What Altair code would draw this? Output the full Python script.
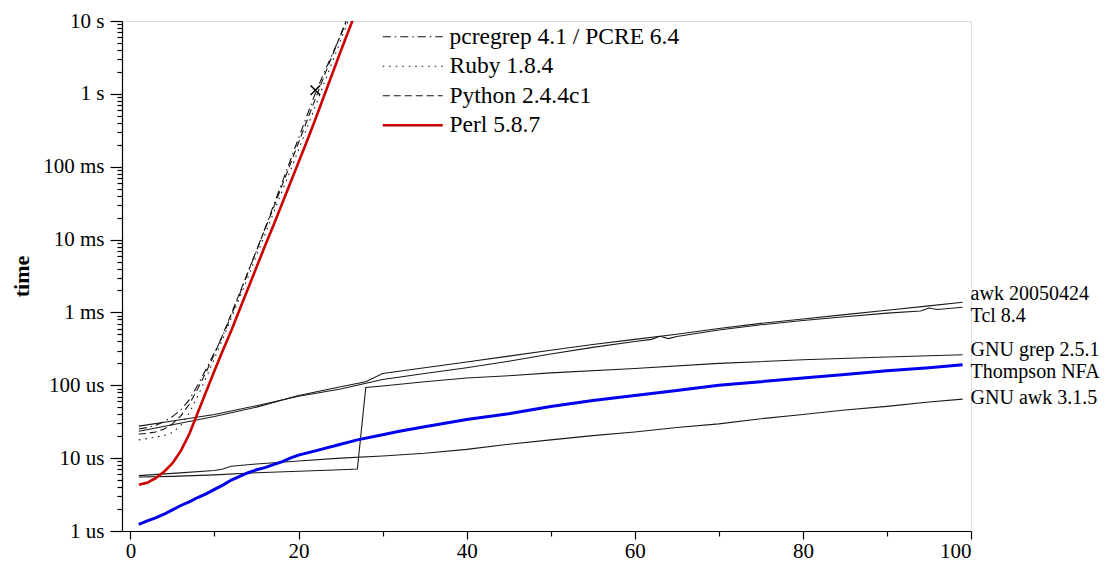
import altair as alt
import pandas as pd

SERIF = "Liberation Serif"

# ---------------- data (times, in microseconds) ----------------
PCRE = "pcregrep 4.1 / PCRE 6.4"
RUBY = "Ruby 1.8.4"
PY = "Python 2.4.4c1"
PERL = "Perl 5.8.7"
AWK = "awk 20050424"
TCL = "Tcl 8.4"
GREP = "GNU grep 2.5.1"
NFA = "Thompson NFA"
GAWK = "GNU awk 3.1.5"

perl_n = list(range(1, 28))
perl_us = [4.3, 4.6, 5.3, 6.5, 8.5, 12.6, 21.4, 41.7, 81.3, 158, 302, 562, 1100, 2140,
           4170, 8130, 15500, 30200, 58900, 115000, 224000, 447000, 912000, 1860000,
           3800000, 7590000, 15100000]

pcre_n = list(range(1, 27))
pcre_us = [25.1, 26.3, 28.2, 31.6, 37.2, 45.7, 63.1, 100, 166, 282, 479, 912, 1780, 3550,
           7080, 14100, 28800, 58900, 120000, 245000, 501000, 1020000, 1910000, 3470000,
           6310000, 12000000]

python_n = list(range(1, 27))
python_us = [21.4, 21.9, 22.9, 25.1, 29.5, 38.0, 55.0, 89.1, 151, 269, 501, 955, 1860, 3630,
             7080, 13800, 26900, 53700, 107000, 214000, 427000, 851000, 1700000, 3310000,
             6460000, 12600000]

ruby_n = list(range(1, 27))
ruby_us = [17.8, 18.6, 19.5, 20.4, 22.4, 28.2, 41.7, 70.8, 126, 234, 437, 832, 1590, 3090,
           6030, 11700, 22900, 44700, 87100, 170000, 339000, 676000, 1350000, 2690000,
           5370000, 10700000]

awk_n = [1, 5, 10, 15, 20, 25, 28, 30, 35, 40, 45, 50, 55, 60, 65, 70, 75, 80, 85, 90, 95, 99]
awk_us = [23.4, 28.8, 37.2, 50.1, 72.4, 95.5, 112, 145, 174, 209, 251, 302, 363, 427, 501,
          603, 708, 813, 933, 1070, 1230, 1380]

tcl_n = [1, 5, 10, 15, 20, 25, 30, 35, 40, 45, 50, 55, 60, 62, 63, 64, 65, 70, 75, 80, 85,
         90, 94, 95, 96, 99]
tcl_us = [27.5, 32.4, 39.8, 52.5, 70.8, 89.1, 120, 145, 174, 214, 269, 331, 398, 427, 470,
          437, 468, 575, 676, 776, 871, 977, 1047, 1150, 1096, 1175]

grep_n = [1, 5, 10, 15, 20, 25, 27, 28, 30, 35, 40, 45, 50, 60, 70, 80, 90, 99]
grep_us = [5.5, 5.62, 5.89, 6.31, 6.61, 6.92, 7.08, 93.3, 97.7, 112, 126, 135, 148, 170,
           200, 224, 245, 263]

gawk_n = [1, 5, 10, 11, 12, 15, 20, 25, 30, 35, 40, 45, 50, 55, 60, 65, 70, 75, 80, 85, 90,
          95, 99]
gawk_us = [5.75, 6.17, 6.76, 7.08, 7.76, 8.32, 9.12, 10.0, 10.7, 11.7, 13.2, 15.5, 17.8,
           20.4, 22.9, 26.3, 29.5, 34.7, 39.8, 45.7, 51.3, 58.9, 64.6]

nfa_n = list(range(1, 21)) + [22, 25, 27, 30, 32, 35, 40, 45, 50, 55, 60, 65, 70, 75, 80,
                              85, 90, 95, 99]
nfa_us = [1.23, 1.38, 1.51, 1.70, 1.95, 2.24, 2.51, 2.88, 3.24, 3.72, 4.27, 5.01, 5.62, 6.31,
          6.92, 7.41, 8.13, 8.91, 10.0, 11.0, 12.6, 15.5, 17.8, 20.9, 23.4, 26.9, 33.9, 40.7,
          51.3, 61.7, 72.4, 85.1, 100, 112, 126, 141, 158, 174, 191]

cross_n = [22]
cross_us = [1120000]

legend_order = [PCRE, RUBY, PY, PERL]


def frame(name, ns, us):
    return pd.DataFrame({"n": ns, "t": [u / 1e6 for u in us], "series": name})


exp_df = pd.concat([frame(PCRE, pcre_n, pcre_us), frame(RUBY, ruby_n, ruby_us),
                    frame(PY, python_n, python_us), frame(PERL, perl_n, perl_us)])
black_df = pd.concat([frame(AWK, awk_n, awk_us), frame(TCL, tcl_n, tcl_us),
                      frame(GREP, grep_n, grep_us), frame(GAWK, gawk_n, gawk_us)])
nfa_df = frame(NFA, nfa_n, nfa_us)
cross_df = frame("x", cross_n, cross_us)

# ---------------- axes ----------------
decade = "abs(log(datum.value)/LN10 - round(log(datum.value)/LN10)) < 1e-6"
y_ticks = [k * 10.0 ** e for e in range(-6, 1) for k in range(1, 10)] + [10.0]

FS = 21

y_axis = alt.Axis(
    values=y_ticks,
    labelExpr=("(" + decade + ") ? (datum.value >= 0.999 ? round(datum.value) + ' s' : "
               "datum.value >= 0.000999 ? round(datum.value*1000) + ' ms' : "
               "round(datum.value*1000000) + ' us') : ''"),
    tickSize={"condition": {"test": decade, "value": 12}, "value": 5},
    labelOverlap=False, grid=False,
    labelFont=SERIF, labelFontSize=FS, labelColor="black", labelPadding=6,
    domainColor="black", tickColor="black", domainWidth=1.2, tickWidth=1.2,
    title="time", titleFont=SERIF, titleFontSize=22, titleFontWeight="bold",
    titleColor="black", titleAngle=270, titleAlign="center", titleBaseline="middle",
    titleX=-101, titleY=255,
)

x_axis = alt.Axis(
    values=list(range(0, 101, 10)),
    labelExpr="datum.value % 20 == 0 ? datum.label : ''",
    tickSize={"condition": {"test": "datum.value % 20 == 0", "value": 8}, "value": 5},
    labelOverlap=False, grid=False,
    labelFont=SERIF, labelFontSize=FS, labelColor="black", labelPadding=1,
    domainColor="black", tickColor="black", domainWidth=1.2, tickWidth=1.2,
    title=None,
)

x_scale = alt.Scale(domain=[-1, 100], nice=False, zero=False)
y_scale = alt.Scale(type="log", domain=[1e-6, 10], nice=False)

X = alt.X("n:Q", scale=x_scale, axis=x_axis)
Y = alt.Y("t:Q", scale=y_scale, axis=y_axis)

legend = alt.Legend(
    title=None, orient="none", legendX=279, legendY=4, padding=0,
    symbolType="M-6,0L6,0", symbolSize=100, labelOffset=25, rowPadding=4.5,
    labelFont=SERIF, labelFontSize=23.5, labelColor="black", labelLimit=0,
    symbolStrokeWidth=alt.ExprRef("datum.value === 'Perl 5.8.7' ? 2.6 : 1.2"),
)

black_lines = alt.Chart(black_df).mark_line(color="#1a1a1a", strokeWidth=1.1).encode(
    x=X, y=Y, detail="series:N", order="n:Q")

exp_lines = alt.Chart(exp_df).mark_line(clip=True).encode(
    x=X, y=Y, order="n:Q",
    color=alt.Color("series:N", scale=alt.Scale(domain=legend_order,
                    range=["#111111", "#111111", "#111111", "#cc0000"]), legend=legend),
    strokeDash=alt.StrokeDash("series:N", scale=alt.Scale(domain=legend_order,
                    range=[[8, 4, 1.5, 4], [1.5, 5], [7, 4], [1, 0]]), legend=legend),
    strokeWidth=alt.condition(alt.datum.series == PERL, alt.value(2.6), alt.value(1.1)),
)

nfa_line = alt.Chart(nfa_df).mark_line(color="#0000ee", strokeWidth=3).encode(
    x=X, y=Y, order="n:Q")

cross = alt.Chart(cross_df).mark_point(
    shape="M-1,-1L1,1M1,-1L-1,1", size=90, filled=False, stroke="black",
    strokeWidth=1.6, opacity=1).encode(x=X, y=Y)

label_dy = {AWK: -8, TCL: 9, GREP: -5, NFA: 7, GAWK: -1}
end_frames = {AWK: (awk_n, awk_us), TCL: (tcl_n, tcl_us), GREP: (grep_n, grep_us),
              NFA: (nfa_n, nfa_us), GAWK: (gawk_n, gawk_us)}
labels = []
for name, (ns, us) in end_frames.items():
    d = frame(name, ns[-1:], us[-1:])
    labels.append(alt.Chart(d).mark_text(
        align="left", baseline="middle", dx=8, dy=label_dy[name],
        font=SERIF, fontSize=20, color="black").encode(x=X, y=Y, text="series:N"))

chart = alt.layer(black_lines, exp_lines, nfa_line, cross, *labels).properties(
    width=849, height=510,
    autosize=alt.AutoSizeParams(type="none"),
    padding={"left": 114, "top": 13, "right": 132, "bottom": 34},
).configure_view(stroke=None).configure(font=SERIF, background="white")

chart.save("out.html", embed_options={"renderer": "svg", "actions": False})
